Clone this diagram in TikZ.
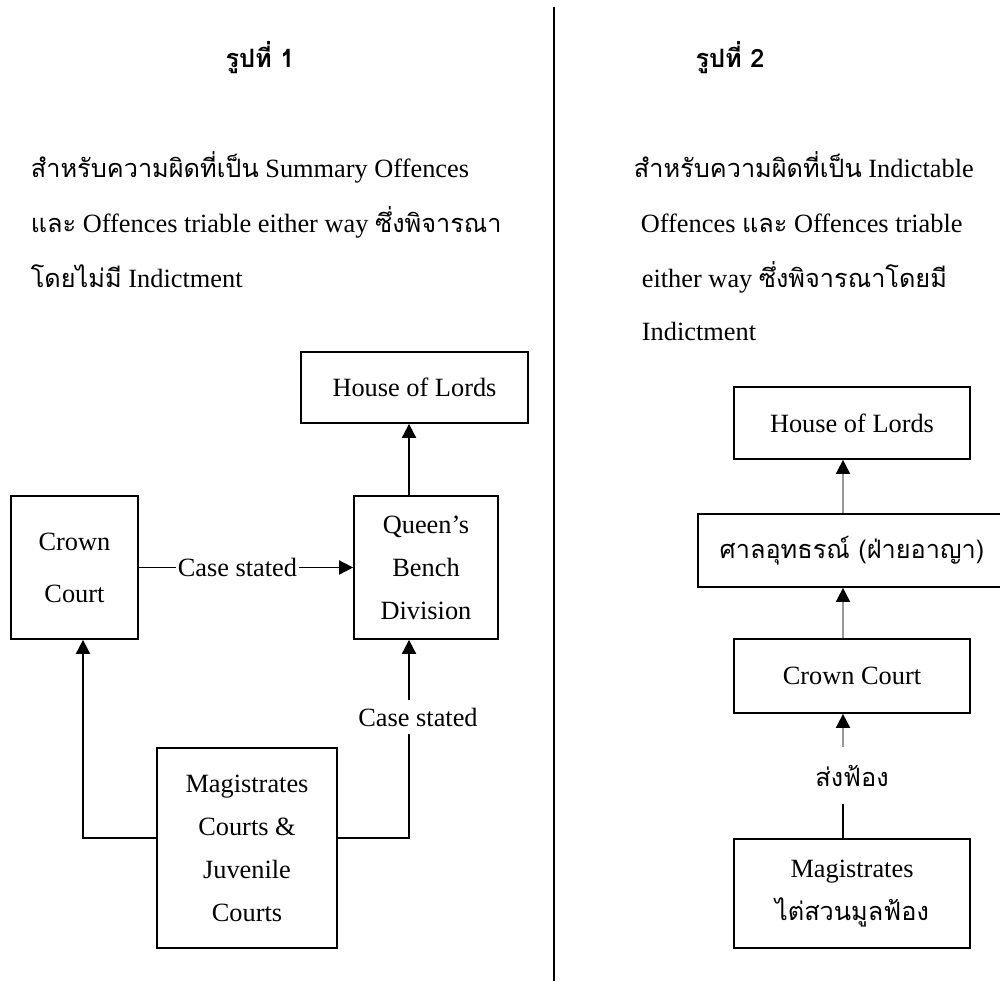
\documentclass[tikz,border=0pt]{standalone}
\usepackage{fontspec}
\setmainfont{Liberation Serif}
\newfontfamily\thaifont[Script=Thai,Scale=0.96]{Loma}
\newcommand{\thtxt}[1]{{\thaifont #1}}
\usetikzlibrary{arrows.meta}
\definecolor{shaftgray}{gray}{0.6}

\begin{document}
\begin{tikzpicture}[x=0.02cm,y=-0.02cm,line width=1pt,
                    >={Triangle[width=8pt,length=8pt]},
                    font=\fontsize{15}{24.5}\selectfont]
    \tikzset{box/.style={draw,align=center,inner sep=0pt},
             txt/.style={anchor=base west,inner sep=0pt},
             lbl/.style={fill=white,inner sep=1pt}}
    \useasboundingbox (0,0) rectangle (1000,981);
    % divider
    \draw (554,7) -- (554,981);
    % figure 1
    \node[anchor=base] (t1) at (260,67) {\thaifont\bfseries รูปที่ 1};
    \node[txt] (a1) at (30,177) {\thtxt{สำหรับความผิดที่เป็น} Summary Offences};
    \node[txt] (a2) at (30,232) {\thtxt{และ} Offences triable either way \thtxt{ซึ่งพิจารณา}};
    \node[txt] (a3) at (30,287) {\thtxt{โดยไม่มี} Indictment};
    \node[box,minimum width=4.54cm,minimum height=1.42cm] (hol1) at (414.5,387.5) {House of Lords};
    \node[box,minimum width=2.54cm,minimum height=2.86cm] (crown1) at (74.5,567.5) {Crown\\[5pt]Court};
    \node[box,minimum width=2.88cm,minimum height=2.86cm] (qbd) at (426,567.5) {Queen’s\\Bench\\Division};
    \node[box,minimum width=3.6cm,minimum height=4cm] (mag1) at (247,848) {Magistrates\\Courts \&\\Juvenile\\Courts};
    \coordinate (up1) at (409,0);
    \coordinate (lc) at (83,838);
    \coordinate (rc) at (409,838);
    \path[->]
    (crown1) edge node[lbl,pos=0.46]{Case stated} (qbd)
    (qbd.north -| up1) edge (hol1.south -| up1);
    \draw[->] (mag1.west |- lc) -- (lc) -- (crown1.south -| lc);
    \draw[->] (mag1.east |- rc) -- (rc)
      -- node[lbl,pos=0.61,minimum height=0.68cm,xshift=0.18cm]{Case stated} (qbd.south -| rc);
    % figure 2
    \node[anchor=base] (t2) at (730,67) {\thaifont\bfseries รูปที่ 2};
    \node[txt] (b1) at (633,177) {\thtxt{สำหรับความผิดที่เป็น} Indictable};
    \node[txt] (b2) at (640,232) {Offences \thtxt{และ} Offences triable};
    \node[txt] (b3) at (641,287) {either way \thtxt{ซึ่งพิจารณาโดยมี}};
    \node[txt] (b4) at (641,340) {Indictment};
    \node[box,minimum width=4.72cm,minimum height=1.44cm] (hol2) at (852,423) {House of Lords};
    \node[box,minimum width=6.16cm,minimum height=1.46cm] (appeal) at (852,550.5) {\thtxt{ศาลอุทธรณ์ (ฝ่ายอาญา)}};
    \node[box,minimum width=4.72cm,minimum height=1.48cm] (crown2) at (852,676) {Crown Court};
    \node[box,minimum width=4.72cm,minimum height=2.18cm] (mag2) at (852,893.5) {Magistrates\\\thtxt{ไต่สวนมูลฟ้อง}};
    \node[minimum height=1.1cm,inner sep=0pt] (sue) at (852,775.5) {\thtxt{ส่งฟ้อง}};
    \coordinate (up2) at (843,0);
    \path[->,shaftgray,>={Triangle[width=8pt,length=8pt,color=black,fill=black]}]
    (appeal.north -| up2) edge (hol2.south -| up2)
    (crown2.north -| up2) edge (appeal.south -| up2)
    (sue.north -| up2) edge (crown2.south -| up2);
    \draw (mag2.north -| up2) -- (sue.south -| up2);
\end{tikzpicture}
\end{document}
